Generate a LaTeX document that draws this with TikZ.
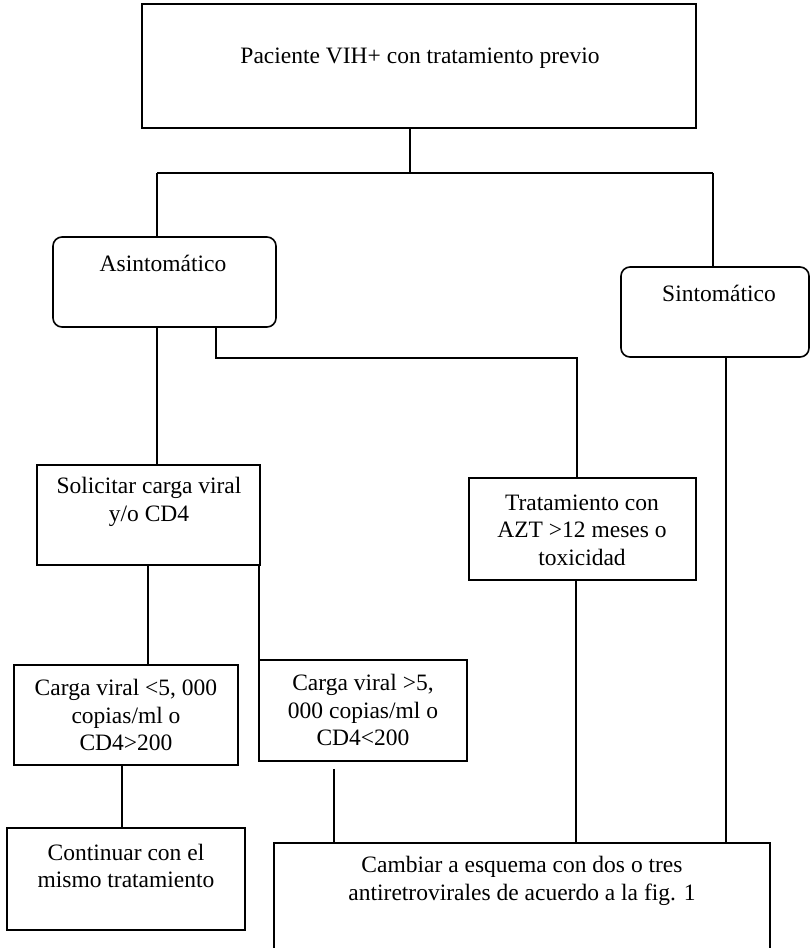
\documentclass[tikz,border=0pt]{standalone}
\usepackage{fontspec}
\setmainfont{Liberation Serif}
\begin{document}
\begin{tikzpicture}[x=1pt,y=-1pt,
  boxn/.style={draw, line width=1.6pt, inner sep=0pt},
  rbox/.style={boxn, rounded corners=9pt},
  txt/.style={align=center, inner sep=0pt, font=\fontsize{23.5}{27.5}\selectfont},
  conn/.style={line width=1.2pt}]
\useasboundingbox (0,0) rectangle (811,948);
% boxes
\node[boxn, minimum width=554pt, minimum height=124pt] (top) at (419,66) {};
\node[rbox, minimum width=223pt, minimum height=90pt] (asin) at (164.5,282) {};
\node[rbox, minimum width=188pt, minimum height=90pt] (sint) at (715,312) {};
\node[boxn, minimum width=223pt, minimum height=100pt] (sol) at (148.5,515) {};
\node[boxn, minimum width=227pt, minimum height=102pt] (trat) at (582.5,529) {};
\node[boxn, minimum width=224pt, minimum height=100pt] (cl) at (126,715) {};
\node[boxn, minimum width=208pt, minimum height=101pt] (cg) at (363,710.5) {};
\node[boxn, minimum width=238pt, minimum height=102pt] (cont) at (126,879) {};
\node[boxn, minimum width=496pt, minimum height=117pt] (camb) at (522,901.5) {};
% texts
\node[txt] (topt) at (420,58) {Paciente VIH+ con tratamiento previo};
\node[txt] (asint) at (163,263) {Asintomático};
\node[txt] (sintt) at (719,293) {Sintomático};
\node[txt] (solt) at (149,502) {Solicitar carga viral\\y/o CD4};
\node[txt] (tratt) at (582,530) {Tratamiento con\\AZT >12 meses o\\toxicidad};
\node[txt] (clt) at (126,715) {Carga viral <5, 000\\copias/ml o\\CD4>200};
\node[txt] (cgt) at (363,710) {Carga viral >5,\\000 copias/ml o\\CD4<200};
\node[txt] (contt) at (126,866) {Continuar con el\\mismo tratamiento};
\node[txt] (cambt) at (522,881) {Cambiar a esquema con dos o tres\\antiretrovirales de acuerdo a la fig. 1};
% junction coordinates
\coordinate (j0) at (410,173);
\coordinate (jl) at (157,173);
\coordinate (jr) at (713,173);
\coordinate (b1) at (216,358);
\coordinate (b2) at (577,358);
\coordinate (sx) at (726,600);
\coordinate (tx) at (576,700);
\coordinate (c1) at (148,600);
\coordinate (c2) at (259,600);
\coordinate (c3) at (122,800);
\coordinate (c4) at (334,800);
% connectors
\draw[conn] (top.south -| j0) -- (j0);
\draw[conn] (jl) -- (jr);
\draw[conn] (jl) -- (asin.north -| jl);
\draw[conn] (jr) -- (sint.north -| jr);
\draw[conn] (asin.south -| jl) -- (sol.north -| jl);
\draw[conn] (asin.south -| b1) -- (b1) -- (b2) -- (trat.north -| b2);
\draw[conn] (sint.south -| sx) -- (camb.north -| sx);
\draw[conn] (trat.south -| tx) -- (camb.north -| tx);
\draw[conn] (sol.south -| c1) -- (cl.north -| c1);
\draw[conn] (sol.south -| c2) -- (cg.north -| c2);
\draw[conn] (cl.south -| c3) -- (cont.north -| c3);
\draw[conn] ([yshift=-7pt]cg.south -| c4) -- (camb.north -| c4);
\end{tikzpicture}
\end{document}
